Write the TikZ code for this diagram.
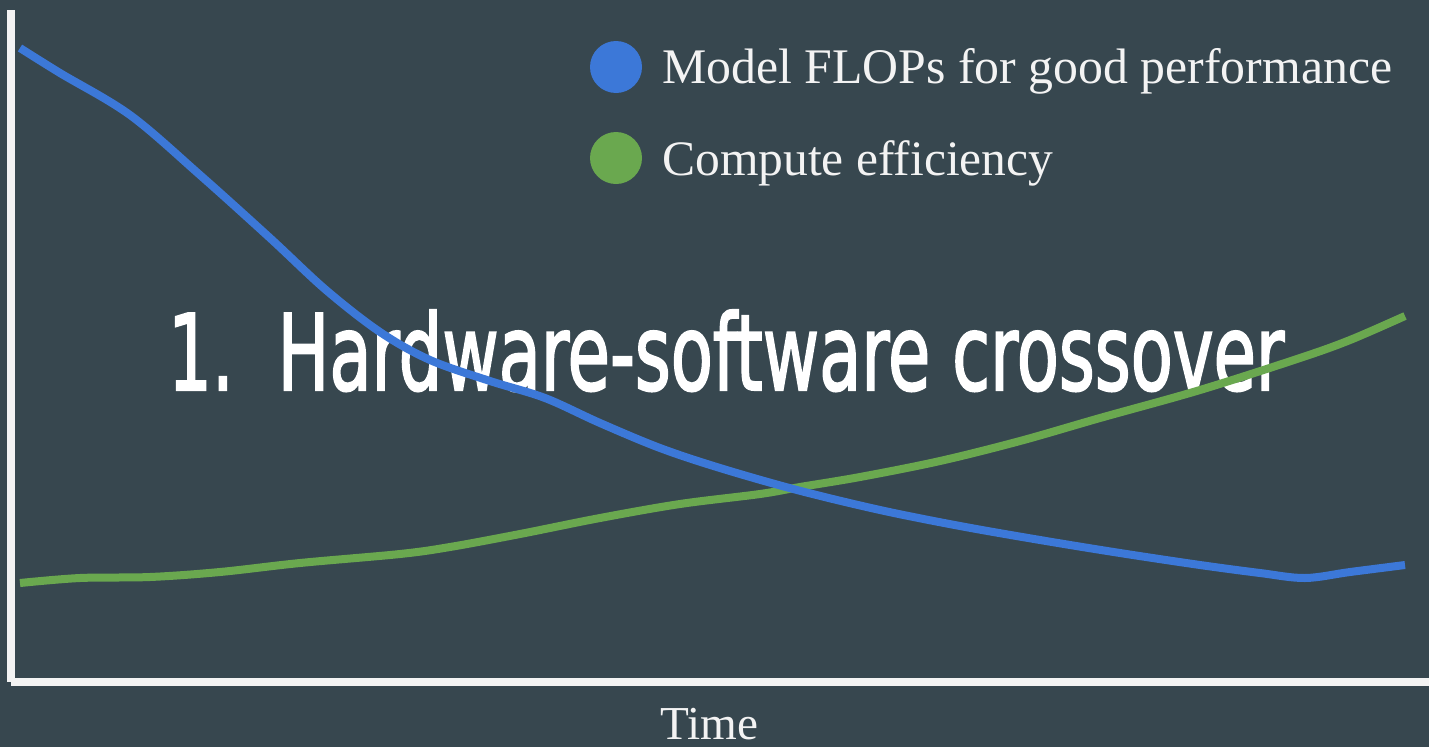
\documentclass[tikz,border=0pt]{standalone}
\usepackage{fontspec}
\usepackage{graphicx}
\setmainfont{Liberation Serif}
\newfontfamily\headfont[FakeBold=2]{DejaVu Sans Condensed}
\definecolor{slate}{HTML}{37474F}
\definecolor{flopblue}{HTML}{3C78D8}
\definecolor{effgreen}{HTML}{6AA84F}
\definecolor{axiswhite}{HTML}{F3F3F3}
\tikzset{
  curve/.style={line width=8pt, smooth, tension=0.55},
  legendtext/.style={anchor=base west, inner sep=0pt, text=axiswhite},
  dot/.style={circle, minimum size=52pt, inner sep=0pt},
}
\begin{document}
\begin{tikzpicture}[x=1pt, y=-1pt]
  % canvas
  \fill[slate] (0,0) rectangle (1429,747);
  \useasboundingbox (0,0) rectangle (1429,747);

  % axes
  \fill[axiswhite] (7,10) rectangle (15,682);
  \fill[axiswhite] (11,678) rectangle (1429,686);

  % headline (behind the curves)
  \node[anchor=base west, inner sep=0pt, text=white] (head) at (168,390)
    {\resizebox{1115pt}{80pt}{\headfont 1.\ \ Hardware-software crossover}};

  % compute efficiency
  \draw[curve, effgreen] plot coordinates {
    (20,583) (80,578) (150,577) (220,572) (300,563) (400,554) (450,547)
    (520,534) (600,518) (680,504) (760,494) (800,487) (860,477) (940,461)
    (1020,441) (1100,418) (1200,390) (1300,358) (1350,340) (1405,316)};

  % model FLOPs
  \draw[curve, flopblue] plot coordinates {
    (20,48) (60,73) (130,115) (200,175) (270,238) (326,290) (380,332)
    (430,360) (490,381) (545,398) (600,423) (660,448) (720,468) (797,490)
    (880,510) (960,526) (1040,540) (1120,553) (1200,565) (1260,573)
    (1305,578) (1350,572) (1405,565)};

  % legend
  \node[dot, fill=flopblue] (dotA) at (616,67) {};
  \node[dot, fill=effgreen] (dotB) at (616,158) {};
  \node[legendtext] (labA) at (662,83)
    {\resizebox{730pt}{!}{Model FLOPs for good performance}};
  \node[legendtext] (labB) at (662,175)
    {\resizebox{391pt}{!}{Compute efficiency}};

  % axis label
  \node[legendtext] (xlab) at (660,739) {\resizebox{98pt}{!}{Time}};
\end{tikzpicture}
\end{document}
